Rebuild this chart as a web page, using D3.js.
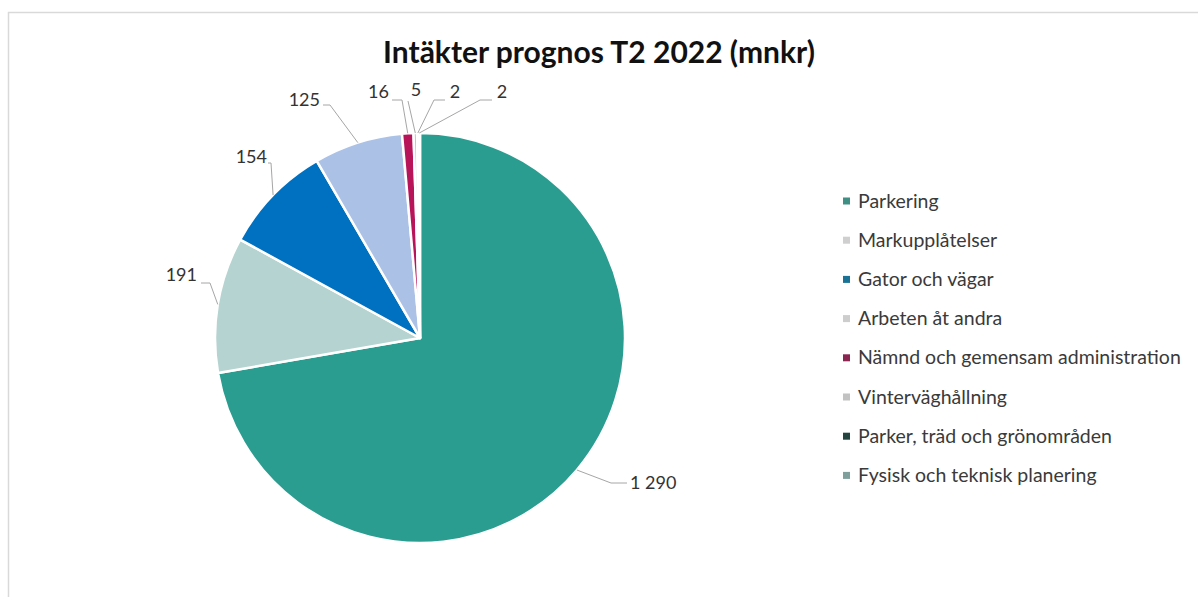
<!DOCTYPE html>
<html>
<head>
<meta charset="utf-8">
<script src="https://cdn.jsdelivr.net/npm/d3@7"></script>
<style>
  html, body { margin: 0; padding: 0; background: #fff; }
  svg { display: block; }
  text { font-family: Lato, "Open Sans", sans-serif; }
</style>
</head>
<body>
<svg id="chart" width="1198" height="597"></svg>
<script>
// Intäkter prognos T2 2022, mnkr per verksamhet
const categories = [
  "Parkering",
  "Markupplåtelser",
  "Gator och vägar",
  "Arbeten åt andra",
  "Nämnd och gemensam administration",
  "Vinterväghållning",
  "Parker, träd och grönområden",
  "Fysisk och teknisk planering"
];
const values = [1290, 191, 154, 125, 16, 5, 2, 2];
const valueLabels = ["1 290", "191", "154", "125", "16", "5", "2", "2"];
const colors = ["#2a9d90", "#b5d3d1", "#0070c0", "#abc2e6", "#b8145a", "#c4c4c4", "#1f4f4c", "#6ea19c"];
const legendColors = ["#3f8f85", "#cfcfcf", "#1a7396", "#cdcdcd", "#8a2650", "#c2c2c2", "#24443f", "#7e9f9c"];

// Placement of the value labels: text anchor, leader elbow and leader end
const labelLayout = [
  { x: 630, y: 489, anchor: "start", elbow: [611, 483], end: [627, 483] },
  { x: 197, y: 281, anchor: "end",   elbow: [210, 283], end: [201, 283] },
  { x: 267, y: 163, anchor: "end",   elbow: [271, 163], end: [268, 163] },
  { x: 320, y: 106, anchor: "end",   elbow: [330, 105], end: [323, 105] },
  { x: 389, y: 98,  anchor: "end",   elbow: [402, 100], end: [392, 100] },
  { x: 416, y: 96,  anchor: "middle", elbow: [408, 101], end: [408, 101] },
  { x: 455, y: 98,  anchor: "middle", elbow: [434, 100], end: [445, 100] },
  { x: 502, y: 98,  anchor: "middle", elbow: [480, 100], end: [492, 100] }
];

const svg = d3.select("#chart");
const W = 1198, H = 597;

// outer frame of the chart area
svg.append("rect")
  .attr("x", 8.5).attr("y", 12.5)
  .attr("width", W).attr("height", H)
  .attr("fill", "#fff")
  .attr("stroke", "#d9d9d9").attr("stroke-width", 1.5);

// title
svg.append("text")
  .attr("x", 599).attr("y", 63)
  .attr("text-anchor", "middle")
  .attr("font-size", 30).attr("font-weight", 700)
  .attr("fill", "#111")
  .text("Intäkter prognos T2 2022 (mnkr)");

const cx = 420, cy = 338, R = 205;
const pie = d3.pie().sort(null).value(d => d.value);
const arcs = pie(values.map((v, i) => ({ value: v, name: categories[i], i })));
const arc = d3.arc().innerRadius(0).outerRadius(R);

const g = svg.append("g").attr("transform", `translate(${cx},${cy})`);
g.selectAll("path.slice")
  .data(arcs)
  .join("path")
  .attr("class", "slice")
  .attr("d", arc)
  .attr("fill", d => colors[d.data.i])
  .attr("stroke", "#fff")
  .attr("stroke-width", 2.5)
  .attr("stroke-linejoin", "round");

// leader lines from the outer edge of each slice to its label
const labels = svg.append("g");
arcs.forEach((d, i) => {
  const a = (d.startAngle + d.endAngle) / 2;
  const px = cx + Math.sin(a) * R;
  const py = cy - Math.cos(a) * R;
  const L = labelLayout[i];
  labels.append("path")
    .attr("d", d3.line()([[px, py], L.elbow, L.end]))
    .attr("fill", "none")
    .attr("stroke", "#a6a6a6")
    .attr("stroke-width", 1);
  labels.append("text")
    .attr("x", L.x).attr("y", L.y)
    .attr("text-anchor", L.anchor)
    .attr("font-size", 18)
    .attr("fill", "#333")
    .text(valueLabels[i]);
});

// legend
const lx = 843, ly0 = 201, step = 39.2;
const legend = svg.append("g");
categories.forEach((c, i) => {
  const y = ly0 + i * step;
  legend.append("rect")
    .attr("x", lx).attr("y", y - 3.5)
    .attr("width", 7).attr("height", 7)
    .attr("fill", legendColors[i]);
  legend.append("text")
    .attr("x", lx + 15).attr("y", y + 6.5)
    .attr("font-size", 19.5)
    .attr("fill", "#3a3a3a")
    .text(c);
});
</script>
</body>
</html>
